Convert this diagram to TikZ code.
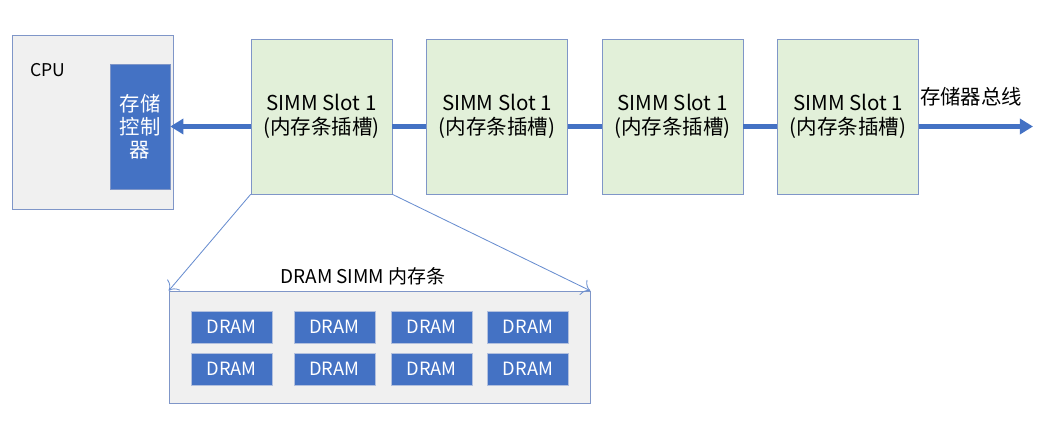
\documentclass[tikz,border=0pt]{standalone}
\usepackage{fontspec}
\setmainfont{Noto Sans CJK SC}
\usepackage{tikz}
\usetikzlibrary{arrows.meta,positioning}
\definecolor{mblue}{HTML}{4472C4}
\definecolor{mline}{HTML}{7F96C8}
\definecolor{mgray}{HTML}{F0F0F0}
\definecolor{mgreen}{HTML}{E2F0D9}

\begin{document}
\begin{tikzpicture}[
  node distance=6mm and 8.5mm,
  cpubox/.style={draw=mline,fill=mgray,minimum width=4.025cm,minimum height=4.35cm},
  ctrl/.style={draw=mline,fill=mblue,text=white,align=center,
    minimum width=1.5cm,minimum height=3.125cm,font=\fontsize{14.5}{16.5}\selectfont},
  slot/.style={draw=mline,fill=mgreen,align=center,
    minimum width=3.525cm,minimum height=3.875cm,font=\fontsize{14.6}{17.5}\selectfont},
  simmbox/.style={draw=mline,fill=mgray,minimum width=10.525cm,minimum height=2.8cm},
  chip/.style={draw=mline!60,fill=mblue,text=white,
    minimum width=2.025cm,minimum height=0.8cm,font=\fontsize{13}{15}\selectfont},
  lbl/.style={font=\fontsize{14.5}{16}\selectfont},
  bus/.style={-{Triangle[length=3.3mm,width=3.8mm]},line width=3pt,mblue},
  link/.style={line width=3pt,mblue},
  zoomline/.style={-{To[length=2mm]},mblue!80,line width=0.6pt}]
\useasboundingbox (0,0) rectangle (26.4,-10.625);
\node[cpubox] (cpu) at (2.3125,-3.05) {};
\node[font=\fontsize{12.5}{14}\selectfont] (cpulbl) at (1.19,-1.75) {CPU};
\node[ctrl] (ctrl) at (3.5,-3.1625) {存储\\控制\\器};
\node[slot] (s1) at (8.0375,-2.9125) {SIMM Slot 1\\(内存条插槽)};
\node[slot,right=of s1] (s2) {SIMM Slot 1\\(内存条插槽)};
\node[slot,right=of s2] (s3) {SIMM Slot 1\\(内存条插槽)};
\node[slot,right=of s3] (s4) {SIMM Slot 1\\(内存条插槽)};
\coordinate (busend) at (25.825,-3.1625);
\node[lbl] (buslbl) at (24.275,-2.43) {存储器总线};
\draw[bus] (s1.west |- ctrl) -- (ctrl.east);
\draw[link] (s1.east |- ctrl) -- (s2.west |- ctrl);
\draw[link] (s2.east |- ctrl) -- (s3.west |- ctrl);
\draw[link] (s3.east |- ctrl) -- (s4.west |- ctrl);
\draw[bus] (s4.east |- ctrl) -- (busend);
% memory module
\node[simmbox] (simm) at (9.4875,-8.675) {};
\node[font=\fontsize{13.5}{15}\selectfont] (simmlbl) at (9.075,-6.9) {DRAM SIMM 内存条};
\foreach \x [count=\i] in {5.79,8.36,10.79,13.2} {
  \node[chip] (da\i) at (\x,-8.175) {DRAM};
  \node[chip] (db\i) at (\x,-9.225) {DRAM};
}
\draw[zoomline] (s1.south west) -- (simm.north west);
\draw[zoomline] (s1.south east) -- (simm.north east);
\end{tikzpicture}
\end{document}
